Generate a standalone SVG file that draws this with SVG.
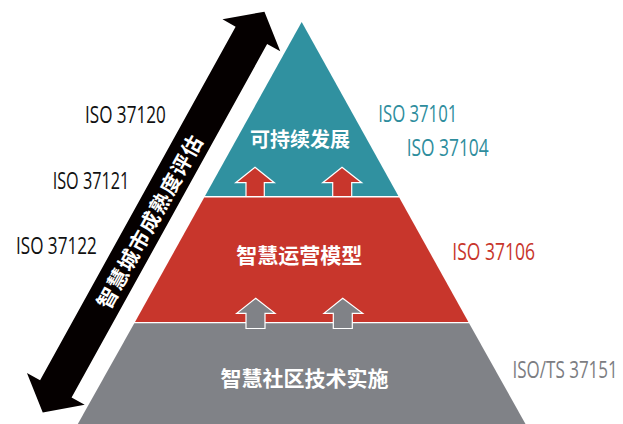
<svg xmlns="http://www.w3.org/2000/svg" width="623" height="424" viewBox="0 0 623 424">
<style>
.cn{font-family:"Noto Sans CJK SC","Noto Sans",sans-serif;font-weight:bold;fill:#fff;text-anchor:middle;dominant-baseline:central}
.iso{font-family:"Open Sans","Liberation Sans",sans-serif;font-size:23px}
.up{stroke:#fff;stroke-width:1.2;stroke-linejoin:miter}
</style>
<rect width="623" height="424" fill="#fff"/>
<g id="layer-top">
<polygon points="301.7,22 398.4,196 205,196" fill="#3091a0"/>
<text class="cn" x="300" y="138.5" font-size="20">可持续发展</text>
</g>
<g id="layer-middle">
<polygon points="204.2,197.5 399.2,197.5 468.4,322 135,322" fill="#c8362c"/>
<text class="cn" x="299.2" y="254.2" font-size="21">智慧运营模型</text>
</g>
<g id="layer-bottom">
<polygon points="134.3,323.3 469.1,323.3 525.5,424 77.8,424" fill="#808287"/>
<text class="cn" x="304.5" y="376.5" font-size="21">智慧社区技术实施</text>
</g>
<g id="connectors">
<polygon class="up" fill="#c8362c" points="255,167.3 274.3,182.7 264.3,182.7 264.3,196.5 246,196.5 246,182.7 235.7,182.7"/>
<polygon class="up" fill="#c8362c" points="342,167.3 361.7,182.7 351.7,182.7 351.7,196.5 332.7,196.5 332.7,182.7 322.7,182.7"/>
<polygon class="up" fill="#808287" points="255.7,298.3 275,313.3 265,313.3 265,328.5 246,328.5 246,313.3 236.7,313.3"/>
<polygon class="up" fill="#808287" points="342.7,298.3 362.7,313.3 352.3,313.3 352.3,328.5 333.3,328.5 333.3,313.3 324,313.3"/>
</g>
<g id="maturity-arrow" transform="translate(153.6,212.1) rotate(-61.05)">
<polygon fill="#050000" points="-229,0 -202,-33 -202,-18 202,-18 202,-33 229,0 202,33 202,18 -202,18 -202,33"/>
<text class="cn" x="-10" y="0" font-size="20.5" letter-spacing="1.2">智慧城市成熟度评估</text>
</g>
<g id="labels-left" class="iso" fill="#111">
<text x="85" y="122.7" textLength="80.7" lengthAdjust="spacingAndGlyphs">ISO 37120</text>
<text x="52.7" y="189.3" textLength="76.6" lengthAdjust="spacingAndGlyphs">ISO 37121</text>
<text x="16" y="254" textLength="80.7" lengthAdjust="spacingAndGlyphs">ISO 37122</text>
</g>
<g id="labels-right" class="iso">
<text x="378.3" y="121.7" textLength="79" lengthAdjust="spacingAndGlyphs" fill="#2e8d9d">ISO 37101</text>
<text x="406.7" y="156" textLength="82" lengthAdjust="spacingAndGlyphs" fill="#2e8d9d">ISO 37104</text>
<text x="452.3" y="260.3" textLength="82.7" lengthAdjust="spacingAndGlyphs" fill="#c8362c">ISO 37106</text>
<text transform="translate(512.5,377.7) scale(0.74,1)" fill="#7c7d82">ISO/TS 37151</text>
</g>
</svg>
